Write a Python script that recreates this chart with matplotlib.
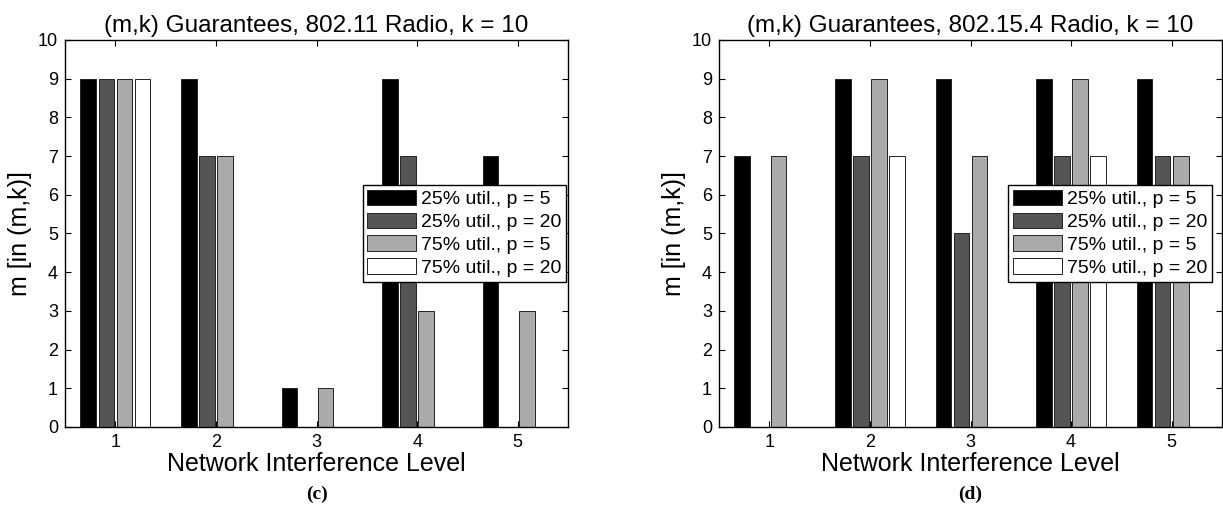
import numpy as np
import matplotlib
matplotlib.use('Agg')
from matplotlib import pyplot as plt

plt.rcParams['font.family'] = ['Liberation Sans', 'DejaVu Sans']

levels = [1, 2, 3, 4, 5]
series_labels = ['25% util., p = 5', '25% util., p = 20',
                 '75% util., p = 5', '75% util., p = 20']
colors = ['#000000', '#555555', '#aaaaaa', '#ffffff']

# (c) 802.11 radio
wifi_25_p5 = [9, 9, 1, 9, 7]
wifi_25_p20 = [9, 7, 0, 7, 0]
wifi_75_p5 = [9, 7, 1, 3, 3]
wifi_75_p20 = [9, 0, 0, 0, 0]

# (d) 802.15.4 radio
zig_25_p5 = [7, 9, 9, 9, 9]
zig_25_p20 = [0, 7, 5, 7, 7]
zig_75_p5 = [7, 9, 7, 9, 7]
zig_75_p20 = [0, 7, 0, 7, 0]

panels = [
    ('(m,k) Guarantees, 802.11 Radio, k = 10', '(c)',
     [wifi_25_p5, wifi_25_p20, wifi_75_p5, wifi_75_p20], 0.0532, (0.996, 0.625)),
    ('(m,k) Guarantees, 802.15.4 Radio, k = 10', '(d)',
     [zig_25_p5, zig_25_p20, zig_75_p5, zig_75_p20], 0.5879, (0.98, 0.625)),
]

fig = plt.figure(figsize=(12.23, 5.14), dpi=100)
x = np.array(levels)
step = 0.18
width = 0.155

for title, caption, data, left, legpos in panels:
    ax = fig.add_axes([left, 0.1693, 0.4113, 0.7529])
    for i, vals in enumerate(data):
        ax.bar(x + (i - 1.5) * step, vals, width=width, color=colors[i],
               edgecolor='#222222', linewidth=0.7, label=series_labels[i])
    ax.set_xlim(0.5, 5.5)
    ax.set_ylim(0, 10)
    ax.set_xticks(levels)
    ax.set_yticks(range(0, 11))
    ax.tick_params(direction='in', length=4, width=0.8, top=True, right=True,
                   labelsize=13, pad=5)
    for s in ax.spines.values():
        s.set_linewidth(1.0)
    ax.set_title(title, fontsize=17.5, pad=6)
    ax.set_xlabel('Network Interference Level', fontsize=18, labelpad=1)
    ax.set_ylabel('m [in (m,k)]', fontsize=18, labelpad=4)
    leg = ax.legend(loc='upper right', bbox_to_anchor=legpos, fontsize=14,
                    handlelength=2.5, handleheight=0.85, labelspacing=0.22,
                    handletextpad=0.25, borderpad=0.25, borderaxespad=0,
                    fancybox=False, framealpha=1, edgecolor='black')
    leg.get_frame().set_linewidth(1.0)
    fig.text(left + 0.4113 / 2, 0.021, caption, ha='center', va='bottom',
             fontsize=14, fontweight='bold', family='Liberation Serif')

fig.savefig('out.png', dpi=100)
